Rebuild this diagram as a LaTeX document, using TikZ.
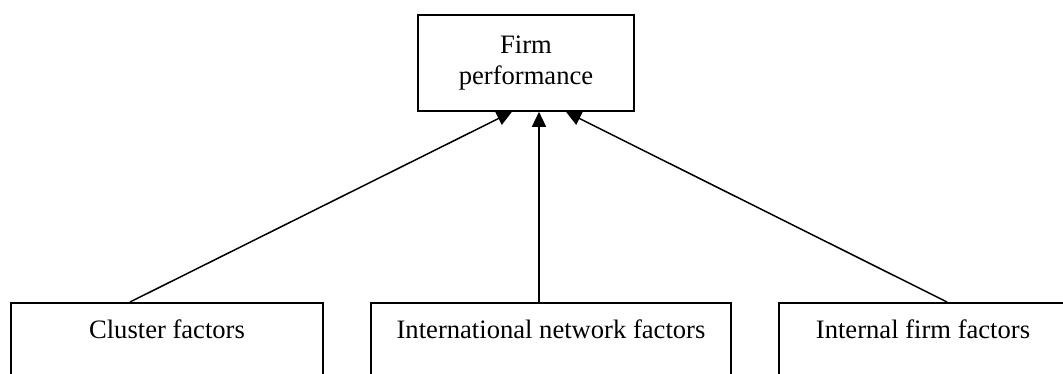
\documentclass[tikz,border=0pt]{standalone}
\usepackage{fontspec}
\setmainfont{Liberation Serif}
\usetikzlibrary{arrows.meta}
\begin{document}
\begin{tikzpicture}[x=1pt,y=-1pt,line cap=butt,line join=miter,
    font=\fontsize{26.6}{31}\selectfont,
    topbox/.style={draw,line width=1.6pt,inner sep=0pt,align=center,
      minimum width=216pt,minimum height=96pt},
    factorbox/.style={draw,line width=1.6pt,inner sep=0pt,anchor=north,
      text height=36pt,text depth=100pt},
    arr/.style={line width=1.5pt,-{Triangle[length=15pt,width=14pt]}}]
  \useasboundingbox (0,0) rectangle (1063,374);
  \node[topbox] (perf) at (526,63) {Firm\\performance};
  \node[factorbox,minimum width=312pt] (cluster) at (167,302) {Cluster factors};
  \node[factorbox,minimum width=360pt] (intl) at (551,302) {International network factors};
  \node[factorbox,minimum width=288pt] (internal) at (923,302) {Internal firm factors};
  \draw[arr] ([xshift=-37pt]cluster.north) -- ([xshift=-14pt]perf.south);
  \draw[arr] ([xshift=-12pt]intl.north) -- ([xshift=13pt]perf.south);
  \draw[arr] ([xshift=24pt]internal.north) -- ([xshift=40pt]perf.south);
\end{tikzpicture}
\end{document}
